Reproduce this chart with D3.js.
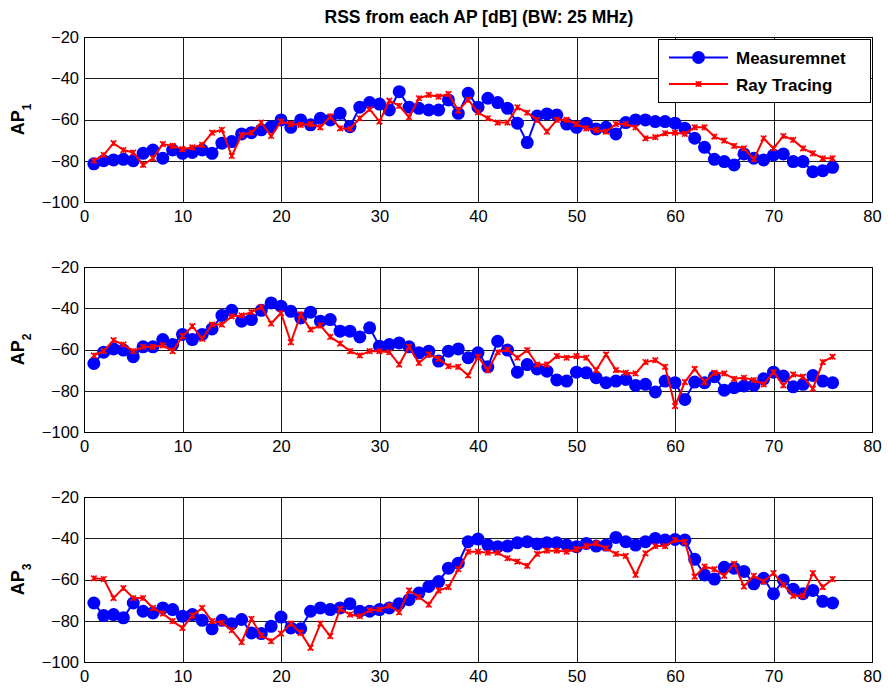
<!DOCTYPE html>
<html>
<head>
<meta charset="utf-8">
<script src="https://cdn.jsdelivr.net/npm/d3@7"></script>
<style>
  html, body { margin: 0; padding: 0; background: #fff; }
  svg { display: block; font-family: "Liberation Sans", Arial, sans-serif; }
</style>
</head>
<body>
<svg id="chart" width="888" height="688"></svg>
<script>
// ---------- data ----------
const positions = [1,2,3,4,5,6,7,8,9,10,11,12,13,14,15,16,17,18,19,20,21,22,23,24,25,26,27,28,29,30,31,32,33,34,35,36,37,38,39,40,41,42,43,44,45,46,47,48,49,50,51,52,53,54,55,56,57,58,59,60,61,62,63,64,65,66,67,68,69,70,71,72,73,74,75,76];

const ap1Measurement = [-81.5,-80,-79.6,-79.3,-80,-76.4,-74.8,-78.8,-74.8,-76.4,-76,-74.8,-76.4,-71.5,-70.7,-67,-66.4,-65,-63.5,-60.2,-63.8,-60.2,-62.6,-59.4,-60.2,-57,-63.5,-54,-51.8,-52.5,-55.4,-46.5,-54,-54.6,-55.4,-55.4,-50.5,-57,-47.3,-54,-49.7,-51.8,-54.6,-61.8,-71.2,-58.3,-57.3,-57.8,-62.2,-63.8,-61.8,-64.6,-63.8,-67,-61.5,-60.2,-60.2,-61,-61,-61.8,-64.3,-69.1,-73.5,-79.3,-80.4,-82,-76.7,-78.8,-79.6,-77.2,-76.7,-80.4,-80.4,-85.3,-84.8,-83.2];
const ap1RayTracing = [-80,-77.2,-71.5,-74.8,-76,-82,-78.8,-71.9,-72.8,-74.4,-73.5,-72.3,-66.4,-65,-77.7,-67.5,-66.4,-61.5,-68,-61,-62.2,-62.6,-62.2,-63.8,-58.6,-64.3,-64.6,-59.4,-55,-61,-50.9,-53.4,-58.9,-49.7,-48.1,-48.9,-47.6,-55.7,-50.5,-56.5,-59.4,-61.5,-61.5,-54.1,-56.7,-60.2,-65.9,-60.2,-60.2,-62.2,-64.3,-65.1,-65.9,-62.2,-62.2,-63.8,-69.1,-68.6,-66.7,-66.4,-67,-63.8,-63.8,-68.3,-70.2,-72.8,-74,-79.3,-69.1,-74,-68,-69.9,-74,-76.4,-78.8,-78.8];

const ap2Measurement = [-66.8,-61.3,-59.7,-60.3,-63.5,-58.7,-58.7,-55.2,-57.6,-52.7,-55.2,-52.7,-50,-43.5,-41,-46.3,-45.5,-41,-37.4,-39,-41.5,-44.7,-41.9,-46.3,-45.5,-51.1,-51.1,-53.9,-49.5,-58.4,-57.6,-56.8,-58.7,-61.6,-60.8,-65.6,-60.8,-59.7,-64,-61.6,-68.4,-56,-60.3,-71,-67.3,-69.4,-70.5,-74.8,-75.3,-71,-71.3,-73.7,-76.1,-75.3,-74.5,-77.4,-76.9,-80.6,-75.3,-76.1,-84.2,-75.8,-76.1,-73.2,-79.7,-78.5,-77.7,-77.4,-74.2,-71,-72.9,-78.1,-76.9,-72.6,-75.3,-76.1];
const ap2RayTracing = [-62.9,-60.8,-55.5,-57.6,-60.8,-58.7,-58.7,-58,-60.8,-53.5,-48.7,-54.8,-47.9,-47.9,-43.9,-43.5,-41.9,-39.4,-47.4,-42.3,-56.5,-43.1,-50.3,-48.4,-53.9,-57.1,-60.8,-62.9,-60.8,-60.8,-61.3,-67.3,-58.7,-66.5,-62.4,-64.5,-68.1,-68.4,-72.6,-63.5,-70,-61.3,-60,-64,-60.3,-67.3,-67.3,-63.2,-64,-63.2,-64,-70,-62.4,-70,-71.3,-71.6,-66.1,-65.2,-68.4,-87.4,-75.8,-69.4,-75.8,-71.3,-71.6,-74.2,-73.7,-74.8,-76.9,-71,-77.4,-72.1,-73.2,-79,-66.1,-63.5];

const ap3Measurement = [-71.4,-77.5,-77,-78.6,-71.4,-75.4,-76.2,-73.8,-74.6,-77.8,-77,-79.8,-83.9,-79.8,-81.4,-79.4,-85.9,-86.2,-82.7,-78.2,-83.5,-83.9,-75.4,-73.8,-74.6,-73.8,-71.7,-75.4,-75.4,-74.6,-73.8,-71.7,-69.8,-66.6,-63.4,-61,-54.5,-52.1,-41.7,-40.4,-43.3,-44.1,-43.8,-42.2,-41.7,-42.8,-42.2,-42.2,-43.3,-44.1,-42.5,-43.8,-43.3,-39.6,-41.7,-43.3,-41.7,-40.1,-40.9,-40.6,-40.9,-50.2,-57.8,-59.8,-54.1,-54.5,-56.1,-62.1,-59.4,-66.9,-60.2,-64.7,-66.9,-65.3,-70.6,-71.4];
const ap3RayTracing = [-59.4,-59.8,-69,-64.2,-69,-69,-73.8,-76.5,-80.2,-83.5,-77.5,-73.8,-80.2,-81,-84.6,-90.4,-79.1,-87.1,-89.9,-86.2,-81.4,-85.9,-93.1,-81.4,-87.5,-74.3,-77,-77.8,-74.9,-74.6,-72.7,-75.9,-65.3,-68.5,-72.2,-65.3,-63.7,-55,-46.5,-46.5,-47,-47,-49.7,-51.3,-53.4,-47.6,-46,-46,-46.5,-45.4,-43.8,-42.5,-44.9,-47.6,-48.6,-57.8,-47.3,-43.8,-43.8,-40.9,-41.7,-58.6,-53.7,-55,-58.2,-52.4,-63.4,-58.2,-61,-56.9,-62.6,-67.9,-67.9,-56.9,-63.7,-59.8];

const panelNames = ["1", "2", "3"];
const measurementSeries = [ap1Measurement, ap2Measurement, ap3Measurement];
const rayTracingSeries = [ap1RayTracing, ap2RayTracing, ap3RayTracing];
const xTicks = [0,10,20,30,40,50,60,70,80];
const yTicks = [-20,-40,-60,-80,-100];
const titleText = "RSS from each AP [dB] (BW: 25 MHz)";
const legendLabels = ["Measuremnet", "Ray Tracing"];

// ---------- layout ----------
const svg = d3.select("#chart");
const left = 84, right = 872;
const panelTops = [37, 267, 497];
const panelH = 165;
const BLUE = "#0000ff", RED = "#ff0000";

const x = d3.scaleLinear().domain([0, 80]).range([left, right]);

svg.append("text")
  .attr("x", 479).attr("y", 23)
  .attr("text-anchor", "middle")
  .attr("font-weight", "bold")
  .attr("font-size", "17.5px")
  .text(titleText);

function drawX(g, cx, cy, s) {
  g.append("path")
    .attr("d", `M${cx - s},${cy - s}L${cx + s},${cy + s}M${cx - s},${cy + s}L${cx + s},${cy - s}M${cx},${cy - s}L${cx},${cy + s}`)
    .attr("stroke", RED).attr("stroke-width", 1.6).attr("fill", "none");
}

panelNames.forEach((name, i) => {
  const top = panelTops[i];
  const y = d3.scaleLinear().domain([-100, -20]).range([top + panelH, top]);
  const g = svg.append("g");

  // grid
  g.append("g").selectAll("line.vg").data(xTicks.slice(1, -1)).join("line")
    .attr("x1", d => Math.round(x(d)) + 0.5).attr("x2", d => Math.round(x(d)) + 0.5)
    .attr("y1", top).attr("y2", top + panelH)
    .attr("stroke", "#1a1a1a").attr("stroke-width", 1);
  g.append("g").selectAll("line.hg").data(yTicks.slice(1, -1)).join("line")
    .attr("x1", left).attr("x2", right)
    .attr("y1", d => Math.round(y(d)) + 0.5).attr("y2", d => Math.round(y(d)) + 0.5)
    .attr("stroke", "#1a1a1a").attr("stroke-width", 1);

  // axes (labels)
  const xAxis = d3.axisBottom(x).tickValues(xTicks).tickSize(0).tickPadding(8).tickFormat(d3.format("d"));
  const yAxis = d3.axisLeft(y).tickValues(yTicks).tickSize(0).tickPadding(5).tickFormat(d3.format("d"));
  const gx = g.append("g").attr("transform", `translate(0,${top + panelH})`).call(xAxis);
  const gy = g.append("g").attr("transform", `translate(${left},0)`).call(yAxis);
  [gx, gy].forEach(a => {
    a.select(".domain").remove();
    a.selectAll("text").attr("font-size", "16.5px").attr("fill", "#000")
      .attr("font-family", "'Liberation Sans', Arial, sans-serif");
  });

  // frame
  g.append("rect")
    .attr("x", left + 0.5).attr("y", top + 0.5)
    .attr("width", right - left).attr("height", panelH)
    .attr("fill", "none").attr("stroke", "#000").attr("stroke-width", 1);

  // y label AP_n
  const lbl = g.append("text")
    .attr("transform", `translate(24,${top + panelH / 2}) rotate(-90)`)
    .attr("text-anchor", "middle")
    .attr("font-weight", "bold")
    .attr("font-size", "18px");
  lbl.append("tspan").text("AP");
  lbl.append("tspan").attr("font-size", "12px").attr("dy", 7).text(name);

  const line = d3.line().x((d, j) => x(positions[j])).y(d => y(d));

  // measurement
  const meas = measurementSeries[i];
  g.append("path").datum(meas).attr("d", line)
    .attr("fill", "none").attr("stroke", BLUE).attr("stroke-width", 2);
  g.append("g").selectAll("circle").data(meas).join("circle")
    .attr("cx", (d, j) => x(positions[j])).attr("cy", d => y(d))
    .attr("r", 6.5).attr("fill", BLUE);

  // ray tracing
  const ray = rayTracingSeries[i];
  g.append("path").datum(ray).attr("d", line)
    .attr("fill", "none").attr("stroke", RED).attr("stroke-width", 2);
  const mg = g.append("g");
  ray.forEach((d, j) => drawX(mg, x(positions[j]), y(d), 2.8));
});

// legend
const lg = svg.append("g");
lg.append("rect").attr("x", 658.5).attr("y", 39.5).attr("width", 212).attr("height", 63)
  .attr("fill", "#fff").attr("stroke", "#000").attr("stroke-width", 1);
const legendY = [57.5, 84];
lg.append("line").attr("x1", 669).attr("x2", 728).attr("y1", legendY[0]).attr("y2", legendY[0])
  .attr("stroke", BLUE).attr("stroke-width", 2);
lg.append("circle").attr("cx", 698.5).attr("cy", legendY[0]).attr("r", 6.5).attr("fill", BLUE);
lg.append("line").attr("x1", 669).attr("x2", 728).attr("y1", legendY[1]).attr("y2", legendY[1])
  .attr("stroke", RED).attr("stroke-width", 2);
drawX(lg, 698.5, legendY[1], 2.8);
legendLabels.forEach((t, k) => {
  lg.append("text").attr("x", 736).attr("y", legendY[k] + 6.5)
    .attr("font-weight", "bold").attr("font-size", "17px").text(t);
});
</script>
</body>
</html>
